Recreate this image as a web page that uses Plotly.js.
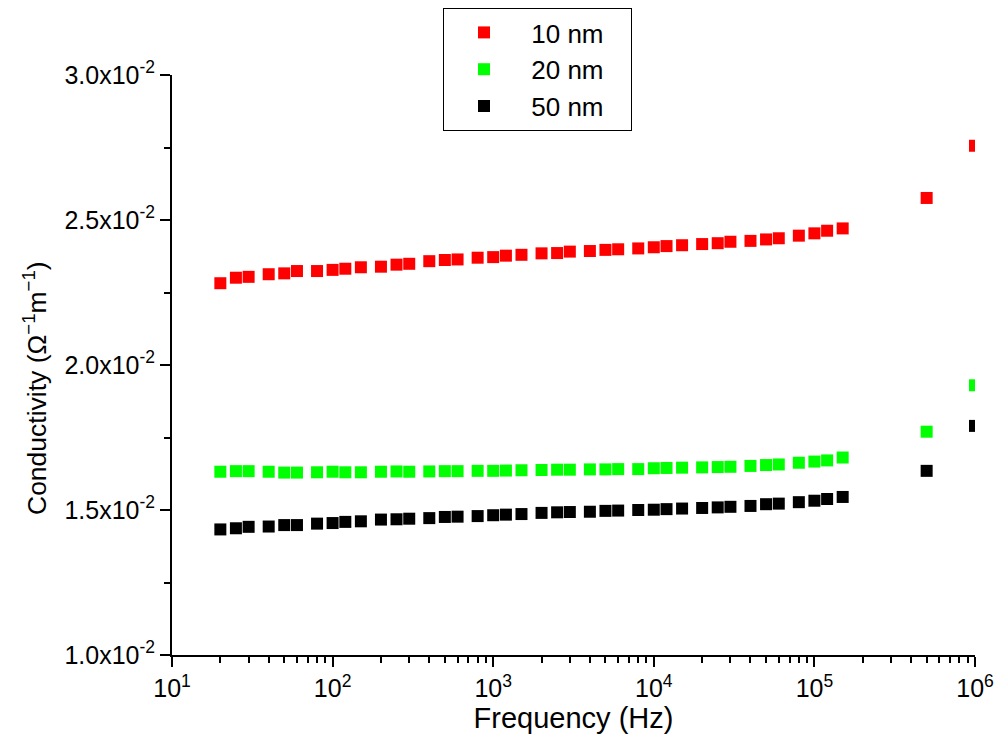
<!DOCTYPE html>
<html>
<head>
<meta charset="utf-8">
<script src="https://cdn.plot.ly/plotly-3.0.1.min.js"></script>
<style>html,body{margin:0;padding:0;background:#fff;}#chart{width:998px;height:750px;}</style>
</head>
<body>
<div id="chart"></div>
<script>
// Frequencies (Hz)
const freq = [20,25,30,40,50,60,80,100,120,150,
  200,250,300,400,500,600,800,1000,1200,1500,
  2000,2500,3000,4000,5000,6000,8000,10000,12000,15000,
  20000,25000,30000,40000,50000,60000,80000,100000,120000,150000,
  500000,1000000];

// Conductivity (Ω^-1 m^-1)
const sigma10nm = [0.02282,0.02301,0.02304,0.02313,0.02316,0.02324,0.02324,0.02328,0.02332,0.02337,
  0.02339,0.02346,0.02349,0.02358,0.02362,0.02364,0.02370,0.02372,0.02377,0.02380,
  0.02385,0.02386,0.02391,0.02393,0.02397,0.02399,0.02402,0.02406,0.02410,0.02413,
  0.02417,0.02420,0.02425,0.02428,0.02433,0.02437,0.02446,0.02454,0.02463,0.02471,
  0.02576,0.02756];

const sigma20nm = [0.01632,0.01634,0.01634,0.01632,0.01629,0.01629,0.01630,0.01632,0.01630,0.01630,
  0.01632,0.01633,0.01632,0.01633,0.01634,0.01634,0.01635,0.01635,0.01636,0.01637,
  0.01638,0.01639,0.01639,0.01640,0.01640,0.01641,0.01641,0.01644,0.01645,0.01646,
  0.01647,0.01648,0.01649,0.01652,0.01655,0.01657,0.01663,0.01667,0.01671,0.01681,
  0.01770,0.01930];

const sigma50nm = [0.01433,0.01437,0.01442,0.01443,0.01448,0.01448,0.01453,0.01455,0.01459,0.01461,
  0.01467,0.01468,0.01470,0.01472,0.01476,0.01477,0.01479,0.01482,0.01484,0.01486,
  0.01490,0.01492,0.01493,0.01494,0.01497,0.01498,0.01500,0.01501,0.01503,0.01505,
  0.01507,0.01509,0.01511,0.01514,0.01520,0.01522,0.01527,0.01532,0.01538,0.01545,
  0.01635,0.01790];

const seriesNames = ['10 nm','20 nm','50 nm'];
const seriesColors = ['#ff0000','#00ff00','#000000'];

const xTickVals = [10,100,1000,10000,100000,1000000];
const xTickText = ['10<sup>1</sup>','10<sup>2</sup>','10<sup>3</sup>','10<sup>4</sup>','10<sup>5</sup>','10<sup>6</sup>'];
const yTickVals = [0.010,0.015,0.020,0.025,0.030];
const yTickText = ['1.0x10<sup>-2</sup>','1.5x10<sup>-2</sup>','2.0x10<sup>-2</sup>','2.5x10<sup>-2</sup>','3.0x10<sup>-2</sup>'];
const yTitle = 'Conductivity (\u03a9<sup>\u22121</sup>m<sup>\u22121</sup>)';

const xMinor = [];
for (let d = 10; d < 1000000; d *= 10) for (let k = 2; k <= 9; k++) xMinor.push(d * k);

const ys = [sigma10nm, sigma20nm, sigma50nm];
const traces = ys.map((y, i) => ({
  x: freq, y: y, type: 'scatter', mode: 'markers', name: '\u00a0' + seriesNames[i] + '\u00a0\u00a0\u00a0',
  marker: {symbol: 'square', size: 12, color: seriesColors[i], line: {width: 0}}
}));

const font = 'Arial, "Liberation Sans", sans-serif';
const layout = {
  width: 998, height: 750,
  margin: {l: 172, r: 23, t: 75, b: 95, autoexpand: false},
  paper_bgcolor: '#fff', plot_bgcolor: '#fff',
  font: {family: font, color: '#000'},
  showlegend: true,
  legend: {x: 0.3375, y: 1.1155, xanchor: 'left', yanchor: 'top',
    bordercolor: '#000', borderwidth: 1, bgcolor: '#fff',
    font: {size: 26, family: font}, itemwidth: 70, tracegroupgap: 0},
  xaxis: {type: 'log', range: [1, 6], showgrid: false, zeroline: false,
    showline: true, linecolor: '#000', linewidth: 2,
    ticks: 'outside', ticklen: 10, tickwidth: 2, tickcolor: '#000',
    tickmode: 'array', tickvals: xTickVals, ticktext: xTickText,
    tickfont: {size: 25, family: font},
    minor: {tickmode: 'array', tickvals: xMinor, ticks: 'outside', ticklen: 6, tickwidth: 2, tickcolor: '#000', showgrid: false},
    title: {text: 'Frequency (Hz)', font: {size: 29, family: font}, standoff: 6}},
  yaxis: {range: [0.010, 0.030], showgrid: false, zeroline: false,
    showline: true, linecolor: '#000', linewidth: 2,
    ticks: 'outside', ticklen: 10, tickwidth: 2, tickcolor: '#000',
    tickmode: 'array', tickvals: yTickVals, ticktext: yTickText,
    tickfont: {size: 25, family: font},
    minor: {tickmode: 'array', tickvals: [0.0125,0.0175,0.0225,0.0275], ticks: 'outside', ticklen: 6, tickwidth: 2, tickcolor: '#000', showgrid: false}},
  annotations: [{text: yTitle, xref: 'paper', yref: 'paper', x: -0.1706, y: 0.5, yshift: -23,
    xanchor: 'center', yanchor: 'middle', textangle: -90, showarrow: false,
    font: {size: 26.5, family: font, color: '#000'}}]
};

Plotly.newPlot('chart', traces, layout, {displayModeBar: false, staticPlot: true});
</script>
</body>
</html>
